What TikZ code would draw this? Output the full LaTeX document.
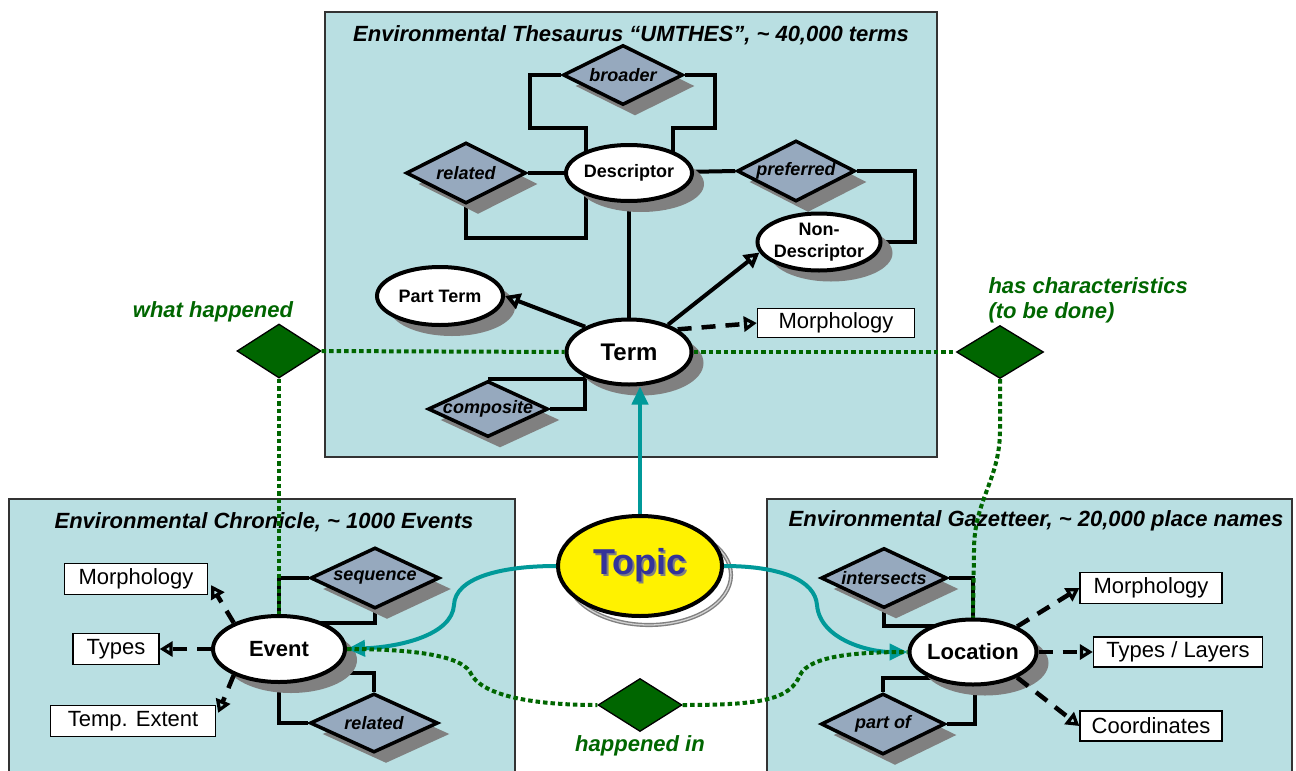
\documentclass[tikz,border=0pt]{standalone}
\usepackage{fontspec}
\setmainfont{Liberation Sans}
\usetikzlibrary{shapes.geometric,shadows,arrows.meta,calc}
\definecolor{panelc}{RGB}{185,223,226}
\definecolor{diac}{RGB}{150,169,190}
\definecolor{shadowc}{RGB}{128,128,128}
\definecolor{greenc}{RGB}{0,102,0}
\definecolor{tealc}{RGB}{0,153,153}
\definecolor{topicc}{RGB}{51,51,153}
\pgfdeclarelayer{panels}
\pgfdeclarelayer{links}
\pgfsetlayers{panels,links,main}
\tikzset{
  shad/.style={drop shadow={shadow xshift=12pt,shadow yshift=-11pt,fill=shadowc,opacity=1}},
  rel/.style={diamond, draw=black, line width=3.5pt, fill=diac, aspect=2, inner sep=-3pt, shad,
    font=\fontsize{18}{21}\selectfont\bfseries\itshape},
  ent/.style={ellipse, draw=black, line width=4pt, fill=white, inner sep=-6pt, shad, align=center,
    font=\fontsize{18}{22}\selectfont\bfseries},
  attr/.style={rectangle, draw=black, line width=1.3pt, fill=white, inner sep=0pt,
    font=\fontsize{22}{26}\selectfont},
  gdia/.style={diamond, draw=black, line width=1.3pt, fill=greenc, inner sep=0pt},
  glabel/.style={text=greenc, font=\fontsize{22}{25}\selectfont\bfseries\itshape},
  ptitle/.style={font=\fontsize{22}{26}\selectfont\bfseries\itshape},
  link/.style={line width=4pt, draw=black},
  sarrow/.style={link, -{Triangle[open,length=15pt,width=16pt]}},
  darrow/.style={link, line width=4.5pt, dash pattern=on 14pt off 10pt, -{Triangle[open,length=13pt,width=15pt]}},
  gdot/.style={draw=greenc, line width=4pt, dash pattern=on 4.5pt off 3pt},
  tealline/.style={draw=tealc, line width=4pt},
  tarrow/.style={tealline, -{Triangle[length=18pt,width=16pt]}},
  panel/.style={fill=panelc, draw=black!80, line width=1.2pt}
}
\begin{document}
\begin{tikzpicture}[x=1pt,y=-1pt]
\useasboundingbox (0,0) rectangle (1296,771);
\begin{pgfonlayer}{panels}
  \fill[white] (0,0) rectangle (1296,771);
  \draw[panel] (325,12) rectangle (937,457);
  \draw[panel] (9,499) rectangle (515,780);
  \draw[panel] (767,499) rectangle (1292,780);
\end{pgfonlayer}

% ---------- Thesaurus ----------
\node[ptitle] (ttitle) at (631,35) {Environmental Thesaurus “UMTHES”, \textasciitilde{} 40,000 terms};
\node[rel, minimum width=120pt, minimum height=60pt] (broader) at (623,75) {broader};
\node[rel, minimum width=120pt, minimum height=61pt] (trel) at (466,173) {related};
\node[rel, minimum width=118pt, minimum height=61pt] (pref) at (796,171) {preferred};
\node[rel, minimum width=120pt, minimum height=56pt] (comp) at (488,409) {composite};
\node[ent, minimum width=126pt, minimum height=56pt] (desc) at (629,173) {Descriptor};
\node[ent, minimum width=123pt, minimum height=57pt, inner sep=-8pt] (nond) at (819,242) {Non-\\Descriptor};
\node[ent, minimum width=126pt, minimum height=58pt] (pterm) at (440,296) {Part Term};
\node[ent, minimum width=125pt, minimum height=65pt, font=\fontsize{24}{28}\selectfont\bfseries] (term) at (629,352) {Term};
\node[attr, minimum width=157pt, minimum height=29pt] (tmorph) at (836,323) {Morphology};

% ---------- Chronicle ----------
\node[ptitle] (ctitle) at (264,522) {Environmental Chronicle, \textasciitilde{} 1000 Events};
\node[rel, minimum width=129pt, minimum height=61pt] (seq) at (375,578) {sequence};
\node[rel, minimum width=128pt, minimum height=59pt] (crel) at (374,723) {related};
\node[ent, minimum width=132pt, minimum height=66pt, font=\fontsize{22}{26}\selectfont\bfseries] (event) at (279,649) {Event};
\node[attr, minimum width=143pt, minimum height=31pt] (emorph) at (136,579) {Morphology};
\node[attr, minimum width=86pt, minimum height=31pt] (etypes) at (116,649) {Types};
\node[attr, minimum width=165pt, minimum height=31pt] (etemp) at (133,721) {Temp. Extent};

% ---------- Gazetteer ----------
\node[ptitle] (gtitle) at (1036,521) {Environmental Gazetteer, \textasciitilde{} 20,000 place names};
\node[rel, minimum width=126pt, minimum height=60pt] (inter) at (884,578) {intersects};
\node[rel, minimum width=124pt, minimum height=61pt] (partof) at (883,724) {part of};
\node[ent, minimum width=127pt, minimum height=65pt, font=\fontsize{22}{26}\selectfont\bfseries] (loc) at (973,652) {Location};
\node[attr, minimum width=142pt, minimum height=31pt] (lmorph) at (1151,588) {Morphology};
\node[attr, minimum width=169pt, minimum height=30pt] (ltypes) at (1178,652) {Types / Layers};
\node[attr, minimum width=142pt, minimum height=30pt] (lcoord) at (1151,726) {Coordinates};

% ---------- green relations ----------
\node[gdia, minimum width=84pt, minimum height=54pt] (wh) at (279,351) {};
\node[gdia, minimum width=87pt, minimum height=53pt] (hc) at (1000,352) {};
\node[gdia, minimum width=84pt, minimum height=53pt] (hi) at (640,705) {};
\node[glabel] (whl) at (213,312) {what happened};
\node[glabel, align=left, anchor=west] (hcl) at (985,300) {has characteristics\\(to be done)};
\node[glabel] (hil) at (640,746) {happened in};

% ---------- Topic ----------
\draw[draw=gray, line width=1.4pt, double=gray!35, double distance=1.3pt] (649,575) ellipse [x radius=82pt, y radius=50pt];
\node[ellipse, draw=black, line width=4pt, fill=yellow, minimum width=164pt, minimum height=100pt, inner sep=0pt,
  font=\fontsize{36}{40}\selectfont\bfseries, text=topicc] (topic) at (640,566)
  {\makebox[0pt][l]{\kern2pt\raisebox{-2pt}{\textcolor{gray}{Topic}}}Topic};

% ---------- black links ----------
\begin{pgfonlayer}{links}
  \draw[link] (broader.west) -| (530,128) -- (586,128) -- ($(desc)+(-43,0)$);
  \draw[link] (broader.east) -| (715,128) -- (673,128) -- ($(desc)+(44,0)$);
  \draw[link] (trel.east) -- (desc);
  \draw[link] (trel.south) |- (586,238) -- ($(desc)+(-43,0)$);
  \draw[link] (desc) -- (term);
  \draw[link] (desc) -- (pref.west);
  \draw[link] (pref.east) -| (915,242) -- (nond);
  \draw[link] (comp.north) -| ($(term)+(-44,0)$);
  \draw[link] (comp.east) -| ($(term)+(-44,0)$);
  \draw[link] (seq.west) -| (event);
  \draw[link] (seq.south) |- ($(event)+(0,-26)$);
  \draw[link] (crel.west) -| (event);
  \draw[link] (crel.north) |- ($(event)+(0,24)$);
  \draw[link] (inter.east) -| (loc);
  \draw[link] (inter.south) |- ($(loc)+(0,-26)$);
  \draw[link] (partof.north) |- ($(loc)+(0,26)$);
  \draw[link] (partof.east) -| ($(loc)+(2,0)$);
\end{pgfonlayer}

% ---------- arrows ----------
\draw[sarrow] (term.150) -- (pterm.east);
\draw[sarrow] (term.35) -- (nond.190);
\draw[darrow] (term.25) -- (tmorph.west);
\draw[darrow] (event.150) -- ([xshift=3pt,yshift=10pt]emorph.south east);
\draw[darrow] (event.west) -- (etypes.east);
\draw[darrow] (event.210) -- ([xshift=2pt,yshift=-8pt]etemp.north east);
\draw[darrow] (loc.30) -- (lmorph.west);
\draw[darrow] (loc.east) -- (ltypes.west);
\draw[darrow] (loc.-30) -- (lcoord.west);

% ---------- teal ----------
\draw[tarrow] (topic.north) -- (topic.north |- term.south);
\draw[tarrow] (topic.west) .. controls (500,566) and (455,578) .. (454,605) .. controls (452,635) and (400,647) .. (event.east);
\draw[tarrow] (topic.east) .. controls (780,566) and (815,580) .. (817,605) .. controls (820,640) and (870,652) .. (loc.west);

% ---------- green dotted ----------
\draw[gdot] (wh.east) -- (term.west);
\draw[gdot] (term.east) -- (hc.west);
\draw[gdot] (wh.south) -- (event.north);
\draw[gdot] (hc.south) -- (1000,430) .. controls (1000,480) and (974,500) .. (974,550) -- (loc.north);
\draw[gdot] (event.east) .. controls (410,649) and (460,655) .. (470,672) .. controls (480,695) and (530,705) .. (hi.west);
\draw[gdot] (hi.east) .. controls (760,705) and (790,700) .. (800,675) .. controls (810,655) and (860,652) .. (loc.west);
\end{tikzpicture}
\end{document}
